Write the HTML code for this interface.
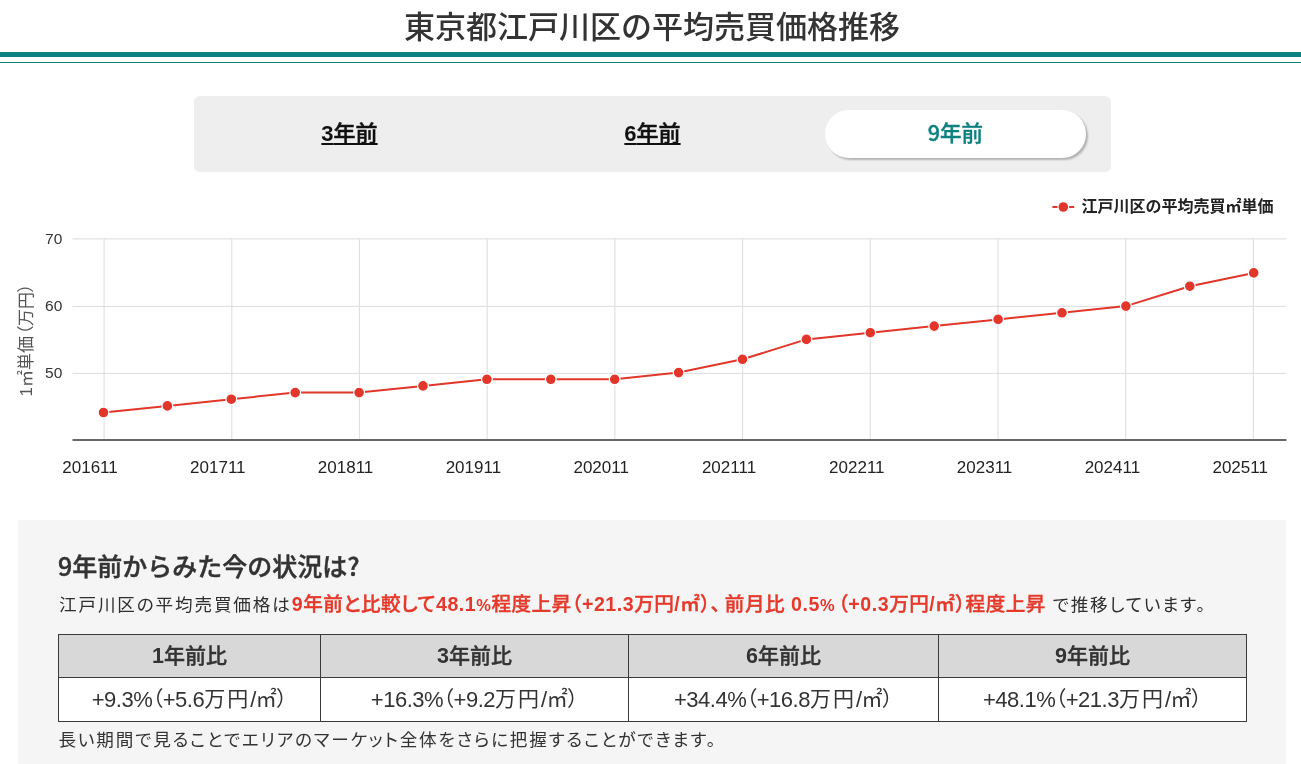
<!DOCTYPE html>
<html lang="ja">
<head>
<meta charset="utf-8">
<title>東京都江戸川区の平均売買価格推移</title>
<style>
html,body{margin:0;padding:0;background:#fff;}
body{width:1301px;height:764px;position:relative;overflow:hidden;font-family:"Liberation Sans","Noto Sans CJK JP",sans-serif;color:#333;}
.abs{position:absolute;white-space:nowrap;}
h2.title{position:absolute;left:0;top:0;width:1304px;margin:0;text-align:center;font-family:"Noto Sans CJK JP","Liberation Sans",sans-serif;font-weight:500;font-size:31px;line-height:52px;height:52px;color:#333;letter-spacing:0;top:-1px;}
.rule1{position:absolute;left:0;top:52px;width:1301px;height:5px;background:#0b8180;}
.rule2{position:absolute;left:0;top:62px;width:1301px;height:1px;background:#0b8180;}
.tabs{position:absolute;left:194px;top:96px;width:917px;height:76px;background:#eee;border-radius:6px;}
.tab{position:absolute;top:14px;width:261px;height:48px;line-height:48px;text-align:center;font-weight:bold;font-size:22px;color:#111;border-radius:24px;}
.tab span{text-decoration:underline;text-decoration-thickness:2px;text-underline-offset:2px;font-weight:500;-webkit-text-stroke:0.5px #111;}
.tab span b{font-weight:bold;-webkit-text-stroke:0;}
.tab.on{background:#fff;color:#0f8080;box-shadow:2px 2px 2px rgba(0,0,0,.25);font-family:"Noto Sans CJK JP","Liberation Sans",sans-serif;font-weight:500;-webkit-text-stroke:0.4px #0f8080;font-size:21.5px;line-height:44px;}
.tab.on span{text-decoration:none;-webkit-text-stroke:0.4px #0f8080;}
svg{position:absolute;left:0;top:0;}
.panel{position:absolute;left:18px;top:520px;width:1268px;height:244px;background:#f5f5f5;}
.h3{left:58px;top:546.5px;font-family:"Noto Sans CJK JP","Liberation Sans",sans-serif;font-weight:500;-webkit-text-stroke:0.45px #333;font-size:25px;line-height:36px;color:#333;}
.p1{left:59px;top:590px;font-family:"Liberation Sans","Noto Sans CJK JP",sans-serif;font-size:17.6px;line-height:28px;letter-spacing:1.85px;color:#2e2e2e;font-feature-settings:"palt";}
.p1 b{color:#e5392b;font-weight:bold;font-size:19.6px;letter-spacing:0.55px;}
.p1 b .k{font-weight:500;-webkit-text-stroke:0.4px #e5392b;letter-spacing:0.45px;}
.p1 b em{font-style:normal;font-size:0.84em;}
.p1 b .g1{margin-right:4px;}
.p1 b .g2{margin-left:3px;}
.p2{left:58.5px;top:726px;font-family:"Liberation Sans","Noto Sans CJK JP",sans-serif;font-size:17.6px;line-height:28px;letter-spacing:1.8px;color:#333;font-feature-settings:"palt";}
table{position:absolute;left:58px;top:634px;width:1188px;border-collapse:collapse;table-layout:fixed;font-family:"Liberation Sans","Noto Sans CJK JP",sans-serif;}
th,td{border:1px solid #3a3a3a;text-align:center;padding:0;box-sizing:border-box;}
td i{font-style:normal;position:relative;top:-1px;}
td i.k{letter-spacing:2px;}
td u{text-decoration:none;font-size:22px;letter-spacing:-0.5px;}
th{background:#d8d8d8;height:43px;font-family:"Noto Sans CJK JP","Liberation Sans",sans-serif;font-weight:500;-webkit-text-stroke:0.4px #333;font-size:21px;color:#333;padding-bottom:4px;}
th b{font-family:"Liberation Sans",sans-serif;font-weight:bold;-webkit-text-stroke:0;font-size:21.5px;}
td{background:#fff;height:44px;font-size:21px;color:#333;font-feature-settings:"palt";padding-bottom:3px;}
</style>
</head>
<body>
<h2 class="title">東京都江戸川区の平均売買価格推移</h2>
<div class="rule1"></div><div class="rule2"></div>

<div class="tabs">
<div class="tab" style="left:25px"><span><b>3</b>年前</span></div>
<div class="tab" style="left:328px"><span><b>6</b>年前</span></div>
<div class="tab on" style="left:631px"><span>9年前</span></div>
</div>

<svg width="1301" height="520" viewBox="0 0 1301 520" font-family="'Liberation Sans','Noto Sans CJK JP',sans-serif">
<g fill="#e0e0e0">
<rect x="72.5" y="238.3" width="1214" height="1.15"/>
<rect x="72.5" y="305.9" width="1214" height="1.15"/>
<rect x="72.5" y="372.9" width="1214" height="1.15"/>
<rect x="103.5" y="238.3" width="1.15" height="201"/>
<rect x="231.2" y="238.3" width="1.15" height="201"/>
<rect x="358.9" y="238.3" width="1.15" height="201"/>
<rect x="486.6" y="238.3" width="1.15" height="201"/>
<rect x="614.3" y="238.3" width="1.15" height="201"/>
<rect x="742.0" y="238.3" width="1.15" height="201"/>
<rect x="869.7" y="238.3" width="1.15" height="201"/>
<rect x="997.4" y="238.3" width="1.15" height="201"/>
<rect x="1125.1" y="238.3" width="1.15" height="201"/>
<rect x="1252.8" y="238.3" width="1.15" height="201"/>
</g>
<rect x="72.5" y="439.2" width="1214" height="1.6" fill="#444"/>
<g font-size="15.5" fill="#333" text-anchor="end">
<text x="62.3" y="243.6">70</text>
<text x="62.3" y="310.8">60</text>
<text x="62.3" y="377.9">50</text>
</g>
<g font-size="17" fill="#222">
<text x="90.0" y="472.7" text-anchor="middle">201611</text>
<text x="217.8" y="472.7" text-anchor="middle">201711</text>
<text x="345.6" y="472.7" text-anchor="middle">201811</text>
<text x="473.4" y="472.7" text-anchor="middle">201911</text>
<text x="601.2" y="472.7" text-anchor="middle">202011</text>
<text x="729.0" y="472.7" text-anchor="middle">202111</text>
<text x="856.8" y="472.7" text-anchor="middle">202211</text>
<text x="984.6" y="472.7" text-anchor="middle">202311</text>
<text x="1112.4" y="472.7" text-anchor="middle">202411</text>
<text x="1240.2" y="472.7" text-anchor="middle">202511</text>
</g>
<text transform="translate(31.6,340) rotate(-90)" text-anchor="middle" font-size="17" fill="#555" style="font-feature-settings:'palt'">1㎡単価<tspan dx="1.5">（</tspan>万円）</text>
<polyline points="103.5,412.5 167.4,405.9 231.3,399.2 295.2,392.6 359.1,392.6 423.0,385.9 486.9,379.3 550.8,379.3 614.7,379.3 678.6,372.6 742.5,359.3 806.4,339.4 870.3,332.7 934.2,326.1 998.1,319.4 1062.0,312.8 1125.9,306.1 1189.8,286.2 1253.7,272.9" fill="none" stroke="#e2362a" stroke-width="2" stroke-linejoin="round"/>
<g fill="#e2362a" stroke="#fff" stroke-width="1.2">
<circle cx="103.5" cy="412.5" r="5.4"/>
<circle cx="167.4" cy="405.9" r="5.4"/>
<circle cx="231.3" cy="399.2" r="5.4"/>
<circle cx="295.2" cy="392.6" r="5.4"/>
<circle cx="359.1" cy="392.6" r="5.4"/>
<circle cx="423.0" cy="385.9" r="5.4"/>
<circle cx="486.9" cy="379.3" r="5.4"/>
<circle cx="550.8" cy="379.3" r="5.4"/>
<circle cx="614.7" cy="379.3" r="5.4"/>
<circle cx="678.6" cy="372.6" r="5.4"/>
<circle cx="742.5" cy="359.3" r="5.4"/>
<circle cx="806.4" cy="339.4" r="5.4"/>
<circle cx="870.3" cy="332.7" r="5.4"/>
<circle cx="934.2" cy="326.1" r="5.4"/>
<circle cx="998.1" cy="319.4" r="5.4"/>
<circle cx="1062.0" cy="312.8" r="5.4"/>
<circle cx="1125.9" cy="306.1" r="5.4"/>
<circle cx="1189.8" cy="286.2" r="5.4"/>
<circle cx="1253.7" cy="272.9" r="5.4"/>
</g>
<!-- legend -->
<line x1="1052.4" y1="207" x2="1074.2" y2="207" stroke="#e2362a" stroke-width="2"/>
<circle cx="1063.3" cy="207" r="5.4" fill="#e2362a" stroke="#fff" stroke-width="1.2"/>
<text x="1081.5" y="211.5" font-size="16" font-weight="bold" fill="#222" font-family="'Noto Sans CJK JP','Liberation Sans',sans-serif">江戸川区の平均売買㎡単価</text>
</svg>

<div class="panel"></div>
<div class="abs h3">9年前からみた今の状況は?</div>
<div class="abs p1">江戸川区の平均売買価格は<b>9<span class="k">年前と比較して</span>48.1<em>%</em><span class="k">程度上昇（</span>+21.3<span class="k">万円</span>/<span class="k">㎡）<span class="g1">、</span>前月比</span> 0.5<em>%</em><span class="k g2">（</span>+0.3<span class="k">万円</span>/<span class="k">㎡）程度上昇</span></b> で推移しています。</div>
<table>
<colgroup><col style="width:262px"><col style="width:308px"><col style="width:310px"><col style="width:308px"></colgroup>
<tr><th><b>1</b>年前比</th><th><b>3</b>年前比</th><th><b>6</b>年前比</th><th><b>9</b>年前比</th></tr>
<tr><td><u>+9.3%</u><i>（</i><u>+5.6</u><i class="k">万円</i><u>/</u><i>㎡）</i></td><td><u>+16.3%</u><i>（</i><u>+9.2</u><i class="k">万円</i><u>/</u><i>㎡）</i></td><td><u>+34.4%</u><i>（</i><u>+16.8</u><i class="k">万円</i><u>/</u><i>㎡）</i></td><td><u>+48.1%</u><i>（</i><u>+21.3</u><i class="k">万円</i><u>/</u><i>㎡）</i></td></tr>
</table>
<div class="abs p2">長い期間で見ることでエリアのマーケット全体をさらに把握することができます。</div>
</body>
</html>
